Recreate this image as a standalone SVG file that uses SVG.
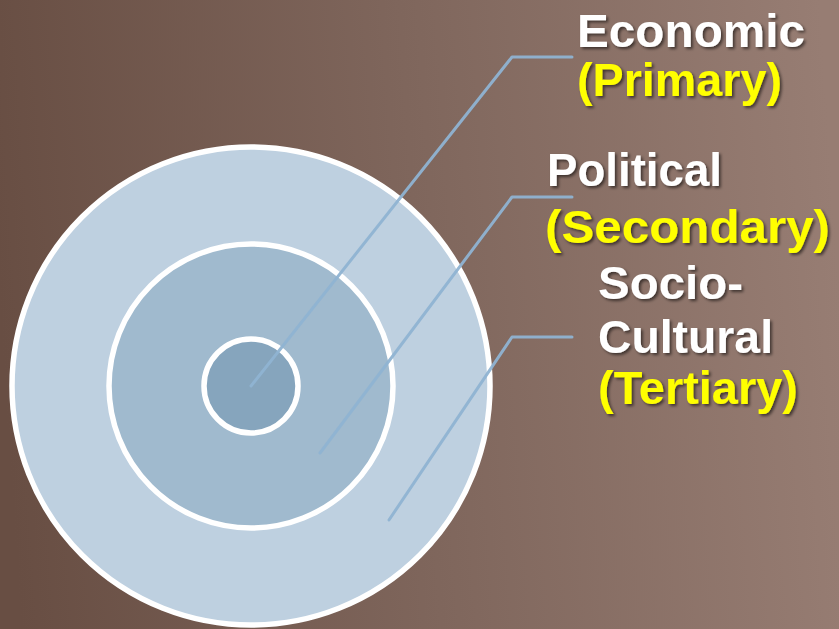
<svg xmlns="http://www.w3.org/2000/svg" width="839" height="629" viewBox="0 0 839 629">
<defs>
<linearGradient id="bg" x1="0" y1="0.5" x2="1" y2="0.45">
<stop offset="0" stop-color="#684e43"/>
<stop offset="0.5" stop-color="#7f665c"/>
<stop offset="1" stop-color="#977d73"/>
</linearGradient>
<filter id="sh" x="-10%" y="-20%" width="120%" height="150%">
<feDropShadow dx="2" dy="2" stdDeviation="1.5" flood-color="#000" flood-opacity="0.55"/>
</filter>
<style>
.ring{stroke:#ffffff;stroke-width:5.5}
.lbl{font-family:"Liberation Sans",Arial,sans-serif;font-weight:bold;font-size:46px;filter:url(#sh)}
.w{fill:#ffffff}
.y{fill:#ffff00}
.con{fill:none;stroke:#8fb3d2;stroke-width:3;stroke-linecap:round;stroke-linejoin:round;opacity:0.95}
</style>
</defs>
<rect width="839" height="629" fill="url(#bg)"/>
<g id="outer"><circle class="ring" cx="251" cy="386" r="239" fill="#bed0e0"/></g>
<g id="middle"><circle class="ring" cx="251" cy="386" r="142" fill="#a0bace"/></g>
<g id="inner"><circle class="ring" cx="251" cy="386" r="47" fill="#86a5bd"/></g>
<g id="connectors">
<polyline class="con" points="251,386 512,57 572,57"/>
<polyline class="con" points="320,453 512,197 572,197"/>
<polyline class="con" points="389,520 512,337 572,337"/>
</g>
<g id="label-economic">
<text class="lbl w" x="577" y="47" textLength="228" lengthAdjust="spacingAndGlyphs">Economic</text>
<text class="lbl y" x="577" y="96" textLength="205" lengthAdjust="spacingAndGlyphs">(Primary)</text>
</g>
<g id="label-political">
<text class="lbl w" x="547" y="186" textLength="175" lengthAdjust="spacingAndGlyphs">Political</text>
<text class="lbl y" x="545" y="243" textLength="285" lengthAdjust="spacingAndGlyphs">(Secondary)</text>
</g>
<g id="label-socio">
<text class="lbl w" x="598" y="299" textLength="145" lengthAdjust="spacingAndGlyphs">Socio-</text>
<text class="lbl w" x="598" y="353" textLength="175" lengthAdjust="spacingAndGlyphs">Cultural</text>
<text class="lbl y" x="598" y="404" textLength="200" lengthAdjust="spacingAndGlyphs">(Tertiary)</text>
</g>
</svg>
